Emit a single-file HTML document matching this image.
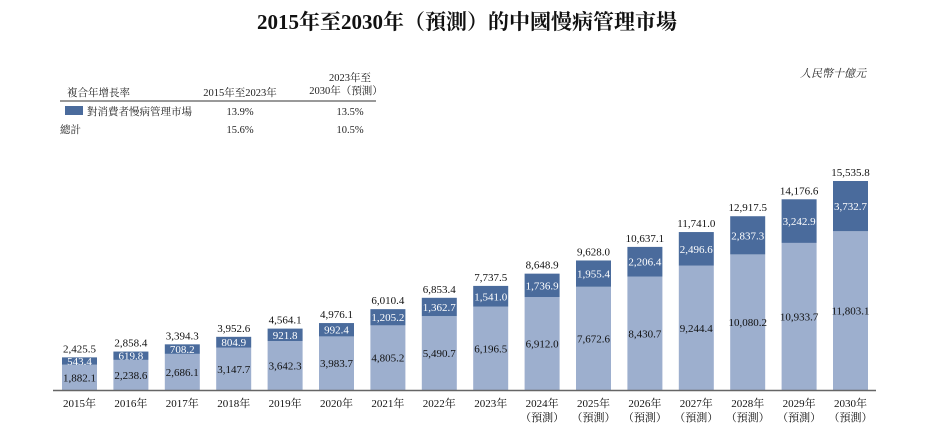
<!DOCTYPE html>
<html><head><meta charset="utf-8"><style>
body{margin:0;background:#fff;width:935px;height:438px;overflow:hidden;font-family:"Liberation Serif","Noto Serif CJK SC",serif;}
svg text{font-family:"Liberation Serif","Noto Serif CJK SC",serif;}
</style></head><body>
<svg id="chart" width="935" height="438" xmlns="http://www.w3.org/2000/svg">
<text x="467" y="29" text-anchor="middle" font-size="21" font-weight="bold" fill="#111">2015年至2030年（預測）的中國慢病管理市場</text>
<text x="866" y="77" text-anchor="end" font-size="11" font-style="italic" fill="#222">人民幣十億元</text>
<g font-size="10.5" fill="#222">
<text x="67" y="96">複合年增長率</text>
<text x="240" y="96" text-anchor="middle">2015年至2023年</text>
<text x="350" y="81" text-anchor="middle">2023年至</text>
<text x="346" y="94" text-anchor="middle">2030年（預測）</text>
<line x1="60" y1="101" x2="376" y2="101" stroke="#333" stroke-width="1"/>
<rect x="65" y="106" width="18" height="9" fill="#4a6b9c"/>
<text x="87" y="115">對消費者慢病管理市場</text>
<text x="240" y="115" text-anchor="middle">13.9%</text>
<text x="350" y="115" text-anchor="middle">13.5%</text>
<text x="60" y="133">總計</text>
<text x="240" y="133" text-anchor="middle">15.6%</text>
<text x="350" y="133" text-anchor="middle">10.5%</text>
</g>
<g id="bars"></g>
<line x1="53" y1="390.5" x2="876" y2="390.5" stroke="#666" stroke-width="1.5"/>
</svg>
<script>
const years=["2015","2016","2017","2018","2019","2020","2021","2022","2023","2024","2025","2026","2027","2028","2029","2030"];
const baseVals=[1882.1,2238.6,2686.1,3147.7,3642.3,3983.7,4805.2,5490.7,6196.5,6912.0,7672.6,8430.7,9244.4,10080.2,10933.7,11803.1];
const consumerVals=[543.4,619.8,708.2,804.9,921.8,992.4,1205.2,1362.7,1541.0,1736.9,1955.4,2206.4,2496.6,2837.3,3242.9,3732.7];
const totalVals=[2425.5,2858.4,3394.3,3952.6,4564.1,4976.1,6010.4,6853.4,7737.5,8648.9,9628.0,10637.1,11741.0,12917.5,14176.6,15535.8];
const forecastFrom=9;
const ns="http://www.w3.org/2000/svg";
const g=document.getElementById("bars");
const baseY=390, scale=209/15535.8, x0=79.5, pitch=51.4, bw=35;
const xs=i=>x0+i*pitch;
const ys=v=>baseY-v*scale;
const fmt=v=>v.toLocaleString("en-US",{minimumFractionDigits:1,maximumFractionDigits:1});
function mk(tag,attrs,txt){const e=document.createElementNS(ns,tag);for(const k in attrs)e.setAttribute(k,attrs[k]);if(txt!=null)e.textContent=txt;g.appendChild(e);return e;}
years.forEach((y,i)=>{
 const cx=xs(i), b=baseVals[i], c=consumerVals[i], t=totalVals[i];
 const yb=ys(b), yt=ys(b+c);
 let r=mk("rect",{x:cx-bw/2,y:yb,width:bw,height:baseY-yb,fill:"#9dafce"});
 
 
 r=mk("rect",{x:cx-bw/2,y:yt,width:bw,height:yb-yt,fill:"#4a6b9c"});
 
 
 let e=mk("text",{x:cx,y:(yb+baseY)/2+4,"text-anchor":"middle","font-size":"11",fill:"#111"},fmt(b));
 
 
 e=mk("text",{x:cx,y:(yt+yb)/2+4,"text-anchor":"middle","font-size":"11",fill:"#fff"},fmt(c));
 
 
 e=mk("text",{x:cx,y:ys(t)-5,"text-anchor":"middle","font-size":"11",fill:"#111"},fmt(t));
 
 
 e=mk("text",{x:cx,y:407,"text-anchor":"middle","font-size":"11",fill:"#111"},y+"年");
 
 
 if(i>=forecastFrom){
  e=mk("text",{x:cx,y:421,"text-anchor":"middle","font-size":"11",fill:"#111"},"（預測）");
  
  
 }
});
</script>
</body></html>
